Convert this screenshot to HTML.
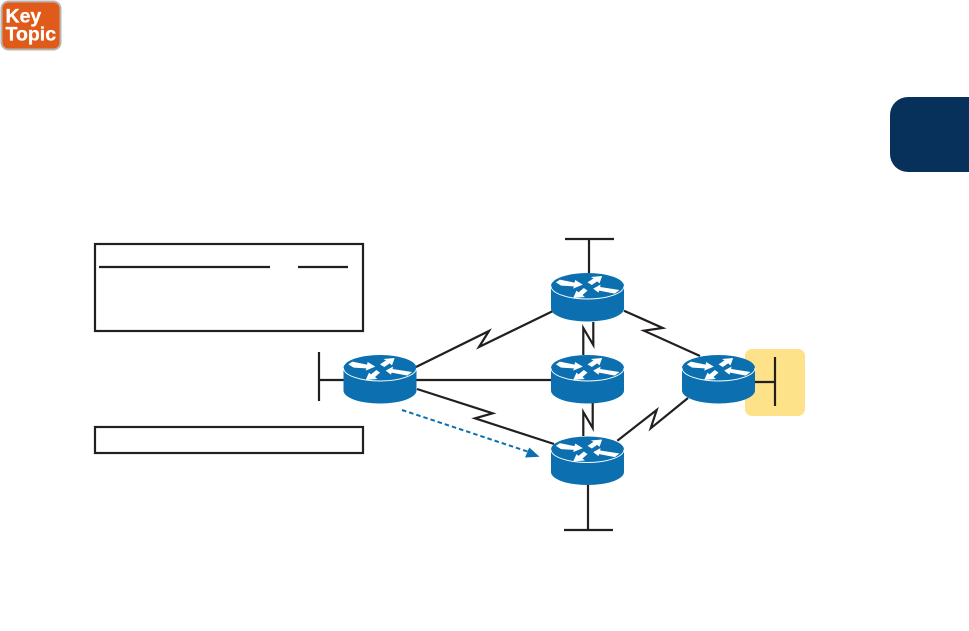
<!DOCTYPE html>
<html>
<head>
<meta charset="utf-8">
<style>
html,body{margin:0;padding:0;background:#fff;width:969px;height:631px;overflow:hidden}
svg{display:block}
text{font-family:"Liberation Sans",sans-serif;font-weight:bold;fill:#fff;font-size:19.5px;stroke:#fff;stroke-width:0.3}
</style>
</head>
<body>
<svg width="969" height="631" viewBox="0 0 969 631" xmlns="http://www.w3.org/2000/svg">
<defs>
<g id="r">
<path d="M-36.5,13 A36.5,13 0 0 1 36.5,13 L36.5,35.5 A36.5,13 0 0 1 -36.5,35.5 Z" fill="#0b6fb0"/>
<path d="M-36.5,13 A36.5,13 0 0 0 36.5,13" fill="none" stroke="#fff" stroke-width="0.9"/>
<g transform="scale(0.3333) translate(-149,-45)" fill="#fff">
<path d="M54,73 L66,65 L110,74 L112,66 L135,80 L106,92 L108,85 L70,83 Z"/>
<path d="M193,54 L185,76 L178,70 L162,81 L149,73 L167,61 L159,57 Z"/>
<path d="M106,120 L116,98 L122,103 L138,90 L149,98 L134,111 L141,117 Z"/>
<path d="M166,92 L188,80 L187,87 L245,96 L231,107 L184,98 L182,104 Z"/>
</g>
</g>
</defs>

<!-- Key Topic badge -->
<rect x="1.5" y="1.5" width="59" height="48" rx="7" fill="#e05a19" stroke="#b9b5b0" stroke-width="2"/>
<text x="5.5" y="22.5">Key</text>
<text x="5.5" y="40.5">Topic</text>

<!-- Chapter tab -->
<path d="M969,97 L908,97 A18,18 0 0 0 890,115 L890,154 A18,18 0 0 0 908,172 L969,172 Z" fill="#07305a"/>

<!-- Yellow highlight -->
<rect x="745" y="349" width="60" height="67" rx="7" fill="#fde28a"/>

<g fill="none" stroke="#231f20" stroke-width="2.2">
<!-- Tables -->
<rect x="95" y="244" width="268" height="87"/>
<rect x="95" y="427" width="268" height="26"/>
<path d="M99,267 H270 M298,267 H348"/>
<!-- LAN stubs -->
<path d="M565,239 H614 M589,239 V273"/>
<path d="M564,530 H613 M588,485 V530"/>
<path d="M319,352 V401 M319,380 H344"/>
<path d="M775,357 V406 M755,382 H775"/>
<!-- Links -->
<path d="M416,367 L489,331 L479,347 L553,311"/>
<path d="M416,380 H551"/>
<path d="M417,389 L492.7,413.3 L475,418.3 L554,444"/>
<path d="M593.3,322 V345 L583.3,328 V355"/>
<path d="M592.7,403 V428 L583.3,412 V436"/>
<path d="M624,310.7 L662.7,328 L644,330.7 L700,356"/>
<path d="M688,398 L650.7,428.3 L656.7,410 L617.3,440.7"/>
</g>

<!-- Dashed path -->
<path d="M402,410 L529,452" fill="none" stroke="#0b6fb0" stroke-width="2" stroke-dasharray="4.5 3"/>
<path d="M539.5,456.7 L529.3,447.5 L525,457.5 Z" fill="#0b6fb0"/>

<!-- Routers -->
<use href="#r" x="380" y="355"/>
<use href="#r" x="587.5" y="273"/>
<use href="#r" x="587.5" y="355"/>
<use href="#r" x="587.5" y="436.5"/>
<use href="#r" x="718.5" y="355"/>
</svg>
</body>
</html>
